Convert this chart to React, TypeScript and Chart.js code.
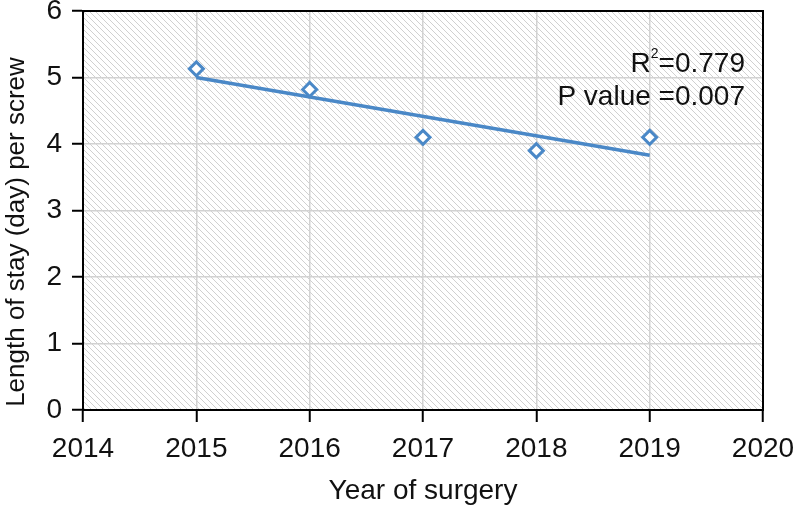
import React, { useEffect, useRef } from "react";
import { Chart, registerables } from "chart.js";

Chart.register(...registerables);

const years = [2015, 2016, 2017, 2018, 2019];
const stayPerScrew = [5.13, 4.82, 4.1, 3.9, 4.1];
const trendYears = [2015, 2019];
const trendValues = [5.0, 3.83];
const xTicks = [2014, 2015, 2016, 2017, 2018, 2019, 2020];
const yTicks = [0, 1, 2, 3, 4, 5, 6];
const rSquared = "0.779";
const pValue = "0.007";

const BLUE = "#4a88c7";
const FONT = "'Liberation Sans', Arial, Helvetica, sans-serif";

function makeHatch(ctx: CanvasRenderingContext2D) {
  const s = 6;
  const c = document.createElement("canvas");
  c.width = s;
  c.height = s;
  const g = c.getContext("2d")!;
  g.fillStyle = "#ffffff";
  g.fillRect(0, 0, s, s);
  g.strokeStyle = "#d0d0d0";
  g.lineWidth = 1;
  for (const off of [-s, 0, s]) {
    g.beginPath();
    g.moveTo(off, 0);
    g.lineTo(off + s, s);
    g.stroke();
  }
  return ctx.createPattern(c, "repeat");
}

const framePlugin = {
  id: "frame",
  beforeDraw(chart: any) {
    const { ctx, chartArea } = chart;
    ctx.save();
    ctx.fillStyle = makeHatch(ctx);
    ctx.fillRect(chartArea.left, chartArea.top, chartArea.right - chartArea.left, chartArea.bottom - chartArea.top);
    ctx.restore();
  },
  afterDraw(chart: any) {
    const { ctx, chartArea } = chart;
    ctx.save();
    ctx.strokeStyle = "#000";
    ctx.lineWidth = 2;
    ctx.strokeRect(chartArea.left, chartArea.top, chartArea.right - chartArea.left, chartArea.bottom - chartArea.top);
    // y axis title
    ctx.fillStyle = "#111";
    ctx.font = `26px ${FONT}`;
    ctx.textAlign = "center";
    ctx.textBaseline = "middle";
    ctx.translate(17, 232);
    ctx.rotate(-Math.PI / 2);
    ctx.fillText("Length of stay (day) per screw", 0, 0);
    ctx.restore();

    // annotation
    ctx.save();
    ctx.fillStyle = "#111";
    ctx.textBaseline = "alphabetic";
    ctx.textAlign = "right";
    const rightX = 745;
    ctx.font = `28px ${FONT}`;
    const valText = "=" + rSquared;
    ctx.fillText(valText, rightX, 72);
    const w1 = ctx.measureText(valText).width;
    ctx.font = `14px ${FONT}`;
    ctx.fillText("2", rightX - w1, 58);
    const w2 = ctx.measureText("2").width;
    ctx.font = `28px ${FONT}`;
    ctx.fillText("R", rightX - w1 - w2, 72);
    ctx.fillText("P value =" + pValue, rightX, 105);
    ctx.restore();
  },
};

export default function App() {
  const ref = useRef<HTMLCanvasElement | null>(null);
  useEffect(() => {
    document.body.style.margin = "0";
    const canvas = ref.current!;
    const chart = new Chart(canvas, {
      type: "scatter",
      data: {
        datasets: [
          {
            label: "Length of stay",
            data: years.map((x, i) => ({ x, y: stayPerScrew[i] })),
            pointStyle: "rectRot",
            pointRadius: 7,
            pointBorderWidth: 3,
            borderColor: BLUE,
            backgroundColor: "#ffffff",
            showLine: false,
            order: 1,
          },
          {
            label: "Trend",
            data: trendYears.map((x, i) => ({ x, y: trendValues[i] })),
            showLine: true,
            borderColor: BLUE,
            borderWidth: 3.5,
            pointRadius: 0,
            order: 2,
          },
        ],
      },
      options: {
        responsive: false,
        animation: false,
        devicePixelRatio: 1,
        layout: { padding: { top: 11, right: 34, left: 0, bottom: 0 } },
        plugins: { legend: { display: false }, tooltip: { enabled: false } },
        scales: {
          x: {
            type: "linear",
            min: xTicks[0],
            max: xTicks[xTicks.length - 1],
            afterBuildTicks: (s: any) => {
              s.ticks = xTicks.map((v) => ({ value: v }));
            },
            afterFit: (s: any) => {
              s.height = 102;
              s.paddingLeft = 0;
              s.paddingRight = 0;
            },
            ticks: {
              callback: (v: any) => String(v),
              color: "#111",
              font: { family: FONT, size: 28 },
              padding: 10,
              maxRotation: 0,
            },
            grid: { color: "#d2d2d2", lineWidth: 1.5, tickColor: "#000", tickLength: 12, tickWidth: 2 },
            border: { color: "#000", width: 2 },
            title: {
              display: true,
              text: "Year of surgery",
              color: "#111",
              font: { family: FONT, size: 28 },
              padding: { top: 0, bottom: 4 },
            },
          },
          y: {
            min: yTicks[0],
            max: yTicks[yTicks.length - 1],
            afterBuildTicks: (s: any) => {
              s.ticks = yTicks.map((v) => ({ value: v }));
            },
            afterFit: (s: any) => {
              s.width = 83;
              s.paddingTop = 0;
              s.paddingBottom = 0;
            },
            ticks: {
              color: "#111",
              font: { family: FONT, size: 28 },
              padding: 10,
            },
            grid: { color: "#d2d2d2", lineWidth: 1.5, tickColor: "#000", tickLength: 11, tickWidth: 2 },
            border: { color: "#000", width: 2 },
          },
        },
      },
      plugins: [framePlugin],
    } as any);
    return () => chart.destroy();
  }, []);
  return (
    <div style={{ width: 797, height: 512 }}>
      <canvas ref={ref} width={797} height={512} style={{ display: "block" }} />
    </div>
  );
}
